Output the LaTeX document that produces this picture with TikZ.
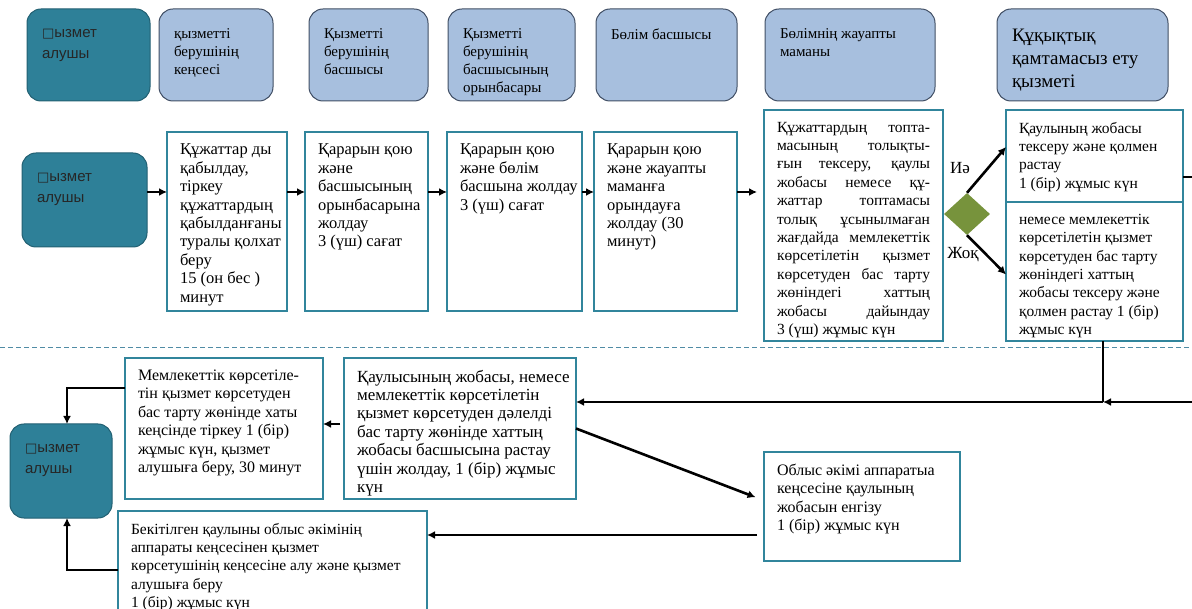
\documentclass[tikz,border=0pt]{standalone}
\usepackage{fontspec}
\setmainfont{Liberation Serif}
\setsansfont{Liberation Sans}
\newfontfamily\symfont{DejaVu Sans}
\usetikzlibrary{positioning,arrows.meta,shapes.geometric}

\definecolor{tealline}{RGB}{49,133,156}
\definecolor{tealfill}{RGB}{46,128,152}
\definecolor{headfill}{RGB}{167,191,222}
\definecolor{headline}{RGB}{64,78,100}
\definecolor{olive}{RGB}{119,147,60}
\definecolor{dashcol}{RGB}{80,140,165}

\newcommand{\pb}[3]{\parbox[c][#2pt][t]{#1pt}{\raggedright\rightskip=-60pt plus 1fil #3}}
\newcommand{\jline}[1]{\makebox[\linewidth][s]{#1}}
\newcommand{\nobox}{{\symfont\fontsize{13}{13}\selectfont □}}

\tikzset{
	box/.style={draw=tealline,line width=2pt,fill=white,anchor=north west,outer sep=0pt,inner xsep=13pt,inner ysep=12pt,font=\fontsize{15.5}{18.4}\selectfont},
	head/.style={draw=headline,fill=headfill,line width=1pt,rounded corners=14pt,anchor=north west,outer sep=0pt,inner xsep=15pt,inner ysep=20pt,font=\fontsize{15}{18}\selectfont},
	client/.style={head,draw=tealfill!75!black,fill=tealfill,text=black!85,font=\sffamily\fontsize{15}{21}\selectfont},
	link/.style={line width=2.6pt},
}

\begin{document}
\begin{tikzpicture}[x=1pt,y=-1pt,>={Latex[length=8pt,width=8pt]}]
	\useasboundingbox (0,0) rectangle (1192,609);

	\node (h0) [client] at (27,9) {\pb{93}{52}{\nobox ызмет\\алушы}};
	\node (h1) [head,right=9pt of h0.north east,anchor=north west] {\pb{84}{52}{қызметті\\берушінің\\кеңсесі}};
	\node (h2) [head,right=36pt of h1.north east,anchor=north west] {\pb{89}{52}{Қызметті\\берушінің\\басшысы}};
	\node (h3) [head,right=20pt of h2.north east,anchor=north west] {\pb{97}{52}{Қызметті\\берушінің\\басшысының\\орынбасары}};
	\node (h4) [head,right=21pt of h3.north east,anchor=north west] {\pb{111}{52}{Бөлім басшысы}};
	\node (h5) [head,right=28pt of h4.north east,anchor=north west] {\pb{140}{52}{Бөлімнің жауапты\\маманы}};
	\node (h6) [head,right=62pt of h5.north east,anchor=north west,font=\fontsize{19}{23}\selectfont] {\pb{141}{52}{Құқықтық\\қамтамасыз ету\\қызметі}};

	\node (l0) [client] at (22,153) {\pb{95}{54}{\nobox ызмет\\алушы}};
	\node (b1) [box,font=\fontsize{16.5}{18.4}\selectfont] at (167,132) {\pb{94}{155}{Құжаттар ды\\қабылдау,\\тіркеу\\құжаттардың\\қабылданғаны\\туралы қолхат\\беру\\15 (он бес )\\минут}};
	\node (b2) [box,font=\fontsize{16.5}{18.4}\selectfont,right=18pt of b1.north east,anchor=north west] {\pb{97}{155}{Қарарын қою\\және\\басшысының\\орынбасарына\\жолдау\\3 (үш) сағат}};
	\node (b3) [box,font=\fontsize{16.5}{18.4}\selectfont,right=19pt of b2.north east,anchor=north west] {\pb{109}{155}{Қарарын қою\\және бөлім\\басшына жолдау\\3 (үш) сағат}};
	\node (b4) [box,font=\fontsize{16.5}{18.4}\selectfont,right=12pt of b3.north east,anchor=north west] {\pb{117}{155}{Қарарын қою\\және жауапты\\маманға\\орындауға\\жолдау (30\\минут)}};
	\node (b5) [box] at (764,110) {\pb{153}{207}{\jline{Құжаттардың топта-}\\\jline{масының толықты-}\\\jline{ғын тексеру, қаулы}\\\jline{жобасы немесе құ-}\\\jline{жаттар топтамасы}\\\jline{толық ұсынылмаған}\\\jline{жағдайда мемлекеттік}\\\jline{көрсетілетін қызмет}\\\jline{көрсетуден бас тарту}\\\jline{жөніндегі хаттың}\\\jline{жобасы дайындау}\\3 (үш) жұмыс күн}};
	\node (d) [diamond,fill=olive,minimum width=46pt,minimum height=42pt,inner sep=0pt] at (967,214) {};
	\node (yes) [font=\fontsize{17}{20}\selectfont] at (960,168) {Иә};
	\node (no) [font=\fontsize{17}{20}\selectfont] at (963,255) {Жоқ};
	\node (b6a) [box] at (1006,110) {\pb{151}{68}{Қаулының жобасы\\тексеру және қолмен\\растау\\1 (бір) жұмыс күн}};
	\node (b6b) [box,below=0pt of b6a.south west,anchor=north west] {\pb{151}{115}{немесе мемлекеттік\\көрсетілетін қызмет\\көрсетуден бас тарту\\жөніндегі хаттың\\жобасы тексеру және\\қолмен растау 1 (бір)\\жұмыс күн}};

	\draw[dashcol,line width=1pt,dash pattern=on 5pt off 3pt] (0,348) -- (1192,348);

	\node (l1) [client] at (10,424) {\pb{72}{54}{\nobox ызмет\\алушы}};
	\node (b7) [box,font=\fontsize{16}{18.4}\selectfont] at (125,358) {\pb{172}{117}{Мемлекеттік көрсетіле-\\тін қызмет көрсетуден\\бас тарту жөнінде хаты\\кеңсінде тіркеу 1 (бір)\\жұмыс күн, қызмет\\алушыға беру, 30 минут}};
	\node (b8) [box,font=\fontsize{17}{18.4}\selectfont,right=21pt of b7.north east,anchor=north west] {\pb{206}{117}{Қаулысының жобасы, немесе\\мемлекеттік көрсетілетін\\қызмет көрсетуден дәлелді\\бас тарту жөнінде хаттың\\жобасы басшысына растау\\үшін жолдау, 1 (бір) жұмыс\\күн}};
	\node (b10) [box,font=\fontsize{16}{18.4}\selectfont] at (764,452) {\pb{170}{85}{Облыс әкімі аппаратыа\\кеңсесіне қаулының\\жобасын енгізу\\1 (бір) жұмыс күн}};
	\node (b9) [box] at (118,511) {\pb{283}{77}{Бекітілген қаулыны облыс әкімінің\\аппараты кеңсесінен қызмет\\көрсетушінің кеңсесіне алу және қызмет\\алушыға беру\\1 (бір) жұмыс күн}};

	\coordinate (r1) at (0,192);
	\coordinate (r2) at (0,424);
	\coordinate (r3) at (0,388);
	\coordinate (r4) at (0,570);
	\coordinate (r5) at (0,535);
	\coordinate (e1) at (1192,177);
	\coordinate (e2) at (1192,402);
	\coordinate (j1) at (1103,402);

	\path[->,link] (l0.east |- r1) edge (b1.west |- r1)
		(b1.east |- r1) edge (b2.west |- r1)
		(b2.east |- r1) edge (b3.west |- r1)
		(b3.east |- r1) edge (b4.west |- r1)
		(b4.east |- r1) edge[shorten >=7pt] (b5.west |- r1)
		(d.north) edge ([yshift=9pt]b6a.west)
		(d.south) edge ([yshift=-3pt]b6b.west);
	\draw[link] (b6a.east |- e1) -- (e1);
	\draw[link] (b6b.south -| j1) -- (j1);
	\path[->,link] (e2) edge (j1)
		(j1) edge (b8.east |- j1)
		(b8.west |- r2) edge[shorten <=4pt] (b7.east |- r2)
		(b8.east) edge[shorten >=9pt] ([yshift=6pt]b10.west)
		(b10.west |- r5) edge[shorten <=7pt] (b9.east |- r5);
	\draw[->,link] (b7.west |- r3) -| ([xshift=6pt]l1.north);
	\draw[->,link] (b9.west |- r4) -| ([xshift=6pt]l1.south);
\end{tikzpicture}
\end{document}
